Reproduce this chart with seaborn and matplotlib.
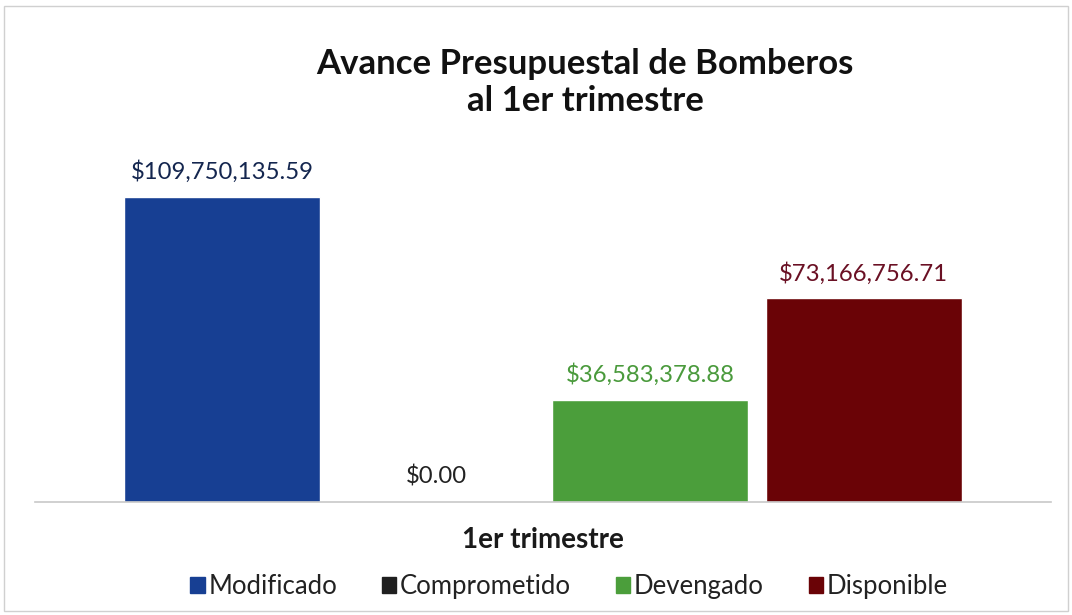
import seaborn as sns
import matplotlib.pyplot as plt
import matplotlib.patches as mpatches
import pandas as pd

periodo = ["1er trimestre"] * 4
conceptos = ["Modificado", "Comprometido", "Devengado", "Disponible"]
montos = [109750135.59, 0.00, 36583378.88, 73166756.71]
colores_barra = ["#173f93", "#1f1f1f", "#4b9e3b", "#6a0306"]
colores_texto = ["#14264f", "#222222", "#4a9a3c", "#6a1024"]

df = pd.DataFrame({"Periodo": periodo, "Concepto": conceptos, "Monto": montos})

sns.set_style("white")
plt.rcParams["font.family"] = ["Lato", "DejaVu Sans"]

fig = plt.figure(figsize=(10.72, 6.15), dpi=100)
ax = fig.add_axes([0.033, 0.184, 0.947, 0.589])

sns.barplot(data=df, x="Periodo", y="Monto", hue="Concepto", hue_order=conceptos,
            palette=colores_barra, width=0.843, gap=0.085, saturation=1,
            legend=False, ax=ax)

for cont, valor, col in zip(ax.containers, montos, colores_texto):
    ax.bar_label(cont, labels=[f"${valor:,.2f}"], padding=10, fontsize=17.2, color=col)

ax.set_ylim(0, 130.3e6)
ax.set_xlim(-0.5, 0.5)
ax.set_yticks([])
ax.set_xlabel("")
ax.set_ylabel("")
ax.tick_params(axis="x", length=0, pad=18)
for lbl in ax.get_xticklabels():
    lbl.set_fontsize(20)
    lbl.set_fontweight("bold")
    lbl.set_color("#1a1a1a")
for s in ["top", "left", "right"]:
    ax.spines[s].set_visible(False)
ax.spines["bottom"].set_color("#c8c8c8")
ax.spines["bottom"].set_linewidth(1.2)

fig.suptitle("Avance Presupuestal de Bomberos\nal 1er trimestre", x=0.546, y=0.922,
             fontsize=25, fontweight="bold", color="#111111", linespacing=1.2)

handles = [mpatches.Patch(color=c, label=n) for c, n in zip(colores_barra, conceptos)]
fig.legend(handles=handles, loc="center", bbox_to_anchor=(0.531, 0.046), ncol=4,
           frameon=False, fontsize=18.5, handlelength=0.55, handleheight=0.55,
           handletextpad=0.15, columnspacing=1.75, labelcolor="#222222")

fig.patches.append(mpatches.Rectangle((0.004, 0.006), 0.992, 0.985, transform=fig.transFigure,
                                      fill=False, edgecolor="#d0d0d0", linewidth=1))

fig.savefig("out.png", dpi=100)
